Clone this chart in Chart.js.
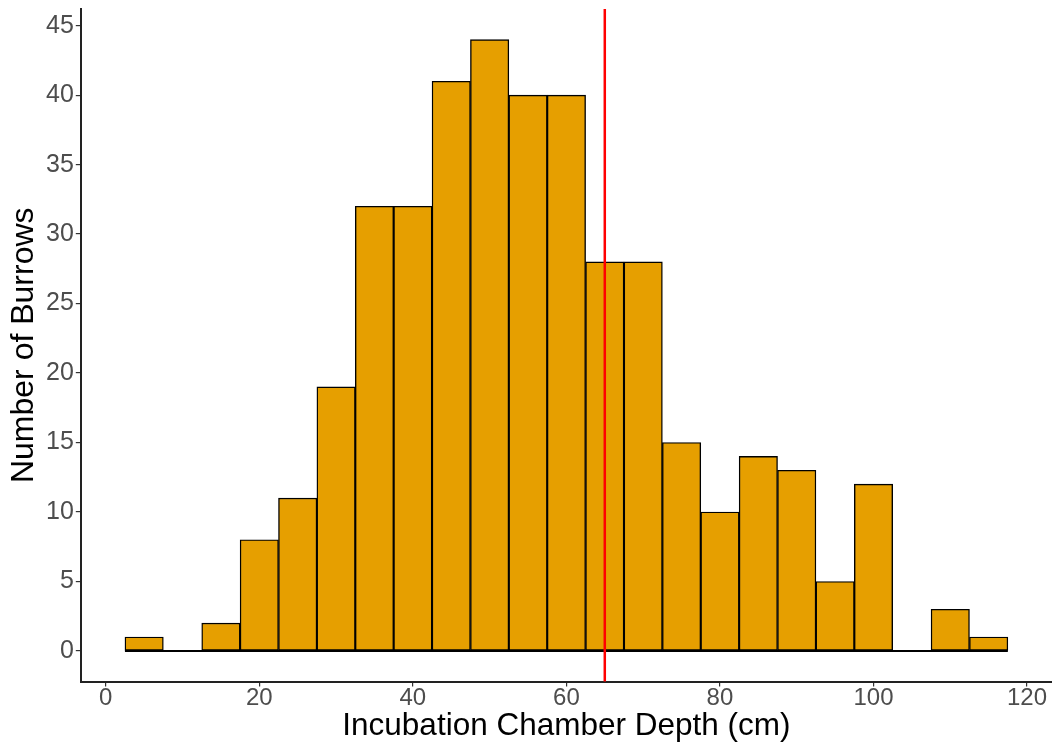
<!DOCTYPE html>
<html>
<head>
<meta charset="utf-8">
<title>Incubation Chamber Depth</title>
<script src="https://cdn.jsdelivr.net/npm/chart.js@4"></script>
<style>
  html, body { margin: 0; padding: 0; background: #fff; }
  #wrap { width: 1052px; height: 742px; }
</style>
</head>
<body>
<div id="wrap"><canvas id="depthChart"></canvas></div>
<script>
// histogram bins (5 cm wide) and burrow counts
const binWidth = 5;
const binCentres = [5, 10, 15, 20, 25, 30, 35, 40, 45, 50, 55, 60, 65, 70, 75, 80, 85, 90, 95, 100, 105, 110, 115];
const burrowCounts = [1, 0, 2, 8, 11, 19, 32, 32, 41, 44, 40, 40, 28, 28, 15, 10, 14, 13, 5, 12, 0, 3, 1];
const meanDepth = 65;

const xTicks = [0, 20, 40, 60, 80, 100, 120];
const yTicks = [0, 5, 10, 15, 20, 25, 30, 35, 40, 45];

const barFill = '#E69F00';
const tickGrey = '#4d4d4d';
const fontFamily = 'Liberation Sans, Arial, sans-serif';

// ggplot-style 5% padding around the data range
const firstEdge = binCentres[0] - binWidth / 2;
const lastEdge = binCentres[binCentres.length - 1] + binWidth / 2;
const xPad = (lastEdge - firstEdge) * 0.05;
const yMaxCount = Math.max(...burrowCounts);
const yPad = yMaxCount * 0.05;

const barData = binCentres.map((c, i) => ({ x: c, y: burrowCounts[i] }));

// vertical line at the mean depth, full panel height
const meanLine = {
  id: 'meanLine',
  afterDatasetsDraw(chart) {
    const { ctx, chartArea, scales } = chart;
    const px = scales.x.getPixelForValue(meanDepth);
    ctx.save();
    ctx.strokeStyle = '#ff0000';
    ctx.lineWidth = 2.5;
    ctx.beginPath();
    ctx.moveTo(px, chartArea.top);
    ctx.lineTo(px, chartArea.bottom);
    ctx.stroke();
    ctx.restore();
  }
};

const axisCommon = {
  offset: false,
  grid: {
    display: true,
    offset: false,
    drawOnChartArea: false,
    drawTicks: true,
    tickLength: 5,
    tickColor: '#333333',
    lineWidth: 1.2
  },
  border: { display: true, color: '#222222', width: 2 }
};

new Chart(document.getElementById('depthChart'), {
  type: 'bar',
  data: {
    datasets: [
      {
        type: 'line',
        data: [{ x: firstEdge, y: 0 }, { x: lastEdge, y: 0 }],
        borderColor: '#000000',
        borderWidth: 2,
        pointRadius: 0,
        order: 0
      },
      {
        data: barData,
        backgroundColor: barFill,
        borderColor: '#000000',
        borderWidth: 1.4,
        borderSkipped: false,
        barPercentage: 1,
        categoryPercentage: 1,
        order: 1
      }
    ]
  },
  options: {
    responsive: true,
    maintainAspectRatio: false,
    animation: false,
    layout: { padding: { left: 8, right: 0, top: 9, bottom: 0 } },
    plugins: {
      legend: { display: false },
      tooltip: { enabled: false }
    },
    scales: {
      x: {
        type: 'linear',
        min: firstEdge - xPad,
        max: lastEdge + xPad,
        afterBuildTicks: (scale) => { scale.ticks = xTicks.map(v => ({ value: v })); },
        ticks: {
          color: tickGrey,
          padding: 0,
          font: { family: fontFamily, size: 24, lineHeight: 1 },
          maxRotation: 0
        },
        title: {
          display: true,
          text: 'Incubation Chamber Depth (cm)',
          color: '#000000',
          padding: { top: 0, bottom: 0 },
          font: { family: fontFamily, size: 31.5, lineHeight: 1.0 }
        },
        ...axisCommon
      },
      y: {
        type: 'linear',
        min: -yPad,
        max: yMaxCount + yPad,
        afterBuildTicks: (scale) => { scale.ticks = yTicks.map(v => ({ value: v })); },
        // top label sits well below the panel edge, so no extra room is needed above it
        afterFit: (scale) => { scale.paddingTop = 0; },
        ticks: {
          color: tickGrey,
          padding: 2,
          font: { family: fontFamily, size: 25 }
        },
        title: {
          display: true,
          text: 'Number of Burrows',
          color: '#000000',
          padding: { top: 0, bottom: 4 },
          font: { family: fontFamily, size: 32, lineHeight: 1.0 }
        },
        ...axisCommon
      }
    }
  },
  plugins: [meanLine]
});
</script>
</body>
</html>
